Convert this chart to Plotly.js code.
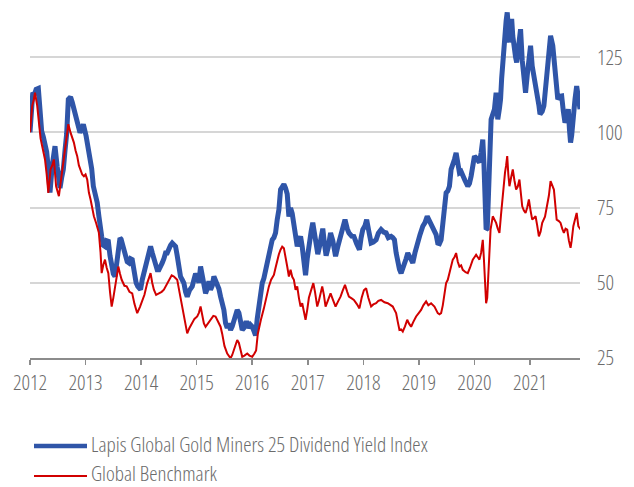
<!DOCTYPE html>
<html>
<head>
<meta charset="utf-8">
<script src="https://cdn.plot.ly/plotly-3.0.1.min.js"></script>
<style>
html,body{margin:0;padding:0;background:#fff;}
#chart{width:634px;height:487px;}
text{font-stretch:75% !important;}
</style>
</head>
<body>
<div id="chart"></div>
<script>
// Years as decimal fractions
const yearTicks = [2012,2013,2014,2015,2016,2017,2018,2019,2020,2021];
const yTicks = [25,50,75,100,125];

const lapisT = [2012.00,2012.02,2012.05,2012.08,2012.11,2012.15,2012.18,2012.21,2012.24,2012.27,2012.30,2012.33,2012.36,2012.40,2012.43,2012.45,2012.49,2012.52,2012.54,2012.57,2012.60,2012.63,2012.66,2012.69,2012.73,2012.76,2012.79,2012.84,2012.87,2012.90,2012.93,2012.96,
2013.01,2013.05,2013.08,2013.11,2013.14,2013.18,2013.21,2013.24,2013.27,2013.29,2013.32,2013.35,2013.38,2013.41,2013.44,2013.47,2013.50,2013.53,2013.56,2013.59,2013.62,2013.64,2013.68,2013.72,2013.75,2013.78,2013.81,2013.84,2013.88,2013.91,2013.94,2013.99,
2014.02,2014.05,2014.08,2014.11,2014.14,2014.17,2014.20,2014.23,2014.26,2014.29,2014.32,2014.35,2014.38,2014.41,2014.44,2014.47,2014.50,2014.53,2014.56,2014.59,2014.62,2014.65,2014.68,2014.71,2014.74,2014.77,2014.80,2014.83,2014.87,2014.92,2014.95,2014.98,
2015.01,2015.04,2015.07,2015.10,2015.13,2015.16,2015.19,2015.22,2015.25,2015.28,2015.31,2015.34,2015.37,2015.40,2015.43,2015.46,2015.49,2015.52,2015.55,2015.58,2015.61,2015.64,2015.67,2015.70,2015.73,2015.76,2015.79,2015.82,2015.85,2015.88,2015.91,2015.94,2015.97,
2016.00,2016.03,2016.06,2016.09,2016.12,2016.15,2016.18,2016.21,2016.24,2016.27,2016.30,2016.33,2016.36,2016.39,2016.42,2016.45,2016.48,2016.51,2016.54,2016.57,2016.60,2016.63,2016.66,2016.69,2016.72,2016.75,2016.78,2016.81,2016.84,2016.87,2016.90,2016.93,2016.96,2016.99,
2017.02,2017.06,2017.09,2017.12,2017.15,2017.18,2017.21,2017.24,2017.27,2017.30,2017.33,2017.37,2017.41,2017.45,2017.50,2017.54,2017.59,2017.63,2017.67,2017.71,2017.74,2017.79,2017.83,2017.88,2017.93,2017.96,2017.99,
2018.03,2018.06,2018.10,2018.14,2018.18,2018.23,2018.27,2018.32,2018.37,2018.41,2018.45,2018.50,2018.53,2018.56,2018.59,2018.62,2018.65,2018.68,2018.71,2018.74,2018.77,2018.80,2018.84,2018.89,2018.93,2018.98,
2019.02,2019.07,2019.11,2019.15,2019.19,2019.22,2019.25,2019.28,2019.31,2019.34,2019.37,2019.40,2019.43,2019.46,2019.49,2019.52,2019.55,2019.58,2019.61,2019.64,2019.67,2019.70,2019.73,2019.76,2019.79,2019.83,2019.88,2019.91,2019.94,2019.97,
2020.00,2020.03,2020.06,2020.09,2020.12,2020.15,2020.17,2020.19,2020.21,2020.23,2020.25,2020.27,2020.30,2020.33,2020.36,2020.39,2020.42,2020.45,2020.47,2020.49,2020.51,2020.53,2020.55,2020.57,2020.59,2020.61,2020.63,2020.65,2020.67,2020.69,2020.71,2020.74,2020.76,2020.79,2020.81,2020.83,2020.86,2020.88,2020.90,2020.92,2020.95,2020.98,
2021.01,2021.04,2021.07,2021.10,2021.13,2021.16,2021.18,2021.22,2021.25,2021.28,2021.31,2021.34,2021.37,2021.41,2021.45,2021.48,2021.50,2021.54,2021.57,2021.60,2021.63,2021.66,2021.69,2021.71,2021.73,2021.75,2021.78,2021.81,2021.84,2021.87,2021.90];

const lapisV = [100,106.6,113.2,112.5,114.3,114.6,107.1,100.4,98.5,96.6,93.5,88,80,89,93,95.4,88.5,83,81.5,85,87.7,94,99.5,111,111.8,110,107.7,104.3,103,99.9,101,102.7,
98.8,95,92.1,88,82.1,79,76.6,72.1,67,65.4,62.5,62.1,64,63.8,59,55.4,53,52.1,57,61,64.9,64.5,61.5,59.9,57,56.6,58,57.7,53,50,48.8,47.7,
51,53.2,56.6,57.5,60,62.1,60,57.7,55,54.3,54.3,56,56.6,58,59.9,59.9,61.5,62.5,63.2,62.7,62.1,59,55.4,52,51,49.9,47,45.4,47.5,48.8,51,53,
52.1,50,55.4,53,49,46.5,48,50.5,47.7,49,52.1,51,49.9,48,45.4,43,41,36.6,35,36.5,34.3,35.5,37.7,40,41,40,37,34.3,35,36.6,36.6,35,36,
35.4,34,32.5,38,43,46,49.9,51.5,54.3,56,58.8,61,64.3,65,66.6,71,74.3,81,82,82.7,81.5,79.5,72,74.9,73,68.8,66.6,62.1,64,65.4,62,57.7,52.5,58,
63.5,67,70,67,63,59.5,62,66,68,63,59,62,66.6,64,58.8,62,65.4,68,71,68,66.6,65.5,65.4,63,61,65,67.7,
69,71,67,63.2,63.5,64.3,66.5,67.7,66.8,66.6,65,65.4,65,64.3,60,56.6,54.5,53.2,54.5,56.6,58,59.9,58,56.6,60,64.3,
66,68.8,70,72.1,70.5,69.9,68.5,67.7,66,63.2,63,64.3,69,73.2,79.9,80.5,82.1,87.7,89,91,93.2,89,86.6,87,85.4,84,82.1,83,85.4,89,
92.1,91.5,91,90,93.2,97.6,90,80,67.7,68,78,94.3,104.3,106,107.7,113.2,104.3,108,111,118,124.3,128,133.2,137,139.9,134,129.9,133,137.7,132,127.7,125,123.2,128,131,134.3,124,119.9,116,113.2,119,124.3,
128.8,122,118.8,116,114.3,109,106,107,108.8,115,121,126,132.1,128.8,119.9,113,111,112,112.1,107,103.2,105,107.7,101,96.6,99,106.6,111,115.4,112.1,107.7];

const benchT = [2012.00,2012.02,2012.04,2012.07,2012.09,2012.13,2012.16,2012.19,2012.22,2012.27,2012.30,2012.33,2012.37,2012.40,2012.43,2012.47,2012.52,2012.55,2012.58,2012.61,2012.64,2012.69,2012.73,2012.79,2012.82,2012.85,2012.88,2012.91,2012.94,2012.97,
2013.00,2013.03,2013.06,2013.09,2013.12,2013.15,2013.19,2013.22,2013.24,2013.27,2013.29,2013.32,2013.35,2013.38,2013.41,2013.44,2013.47,2013.50,2013.53,2013.56,2013.59,2013.62,2013.65,2013.70,2013.74,2013.79,2013.84,2013.88,2013.93,2013.98,
2014.02,2014.06,2014.11,2014.14,2014.17,2014.20,2014.23,2014.27,2014.32,2014.37,2014.41,2014.45,2014.50,2014.55,2014.59,2014.65,2014.69,2014.74,2014.78,2014.83,2014.87,2014.92,2014.96,
2015.01,2015.04,2015.07,2015.10,2015.13,2015.16,2015.20,2015.25,2015.30,2015.34,2015.38,2015.43,2015.46,2015.50,2015.55,2015.58,2015.61,2015.64,2015.67,2015.70,2015.73,2015.76,2015.79,2015.82,2015.86,2015.91,2015.95,
2016.00,2016.04,2016.07,2016.10,2016.13,2016.16,2016.21,2016.25,2016.30,2016.34,2016.39,2016.42,2016.45,2016.48,2016.51,2016.54,2016.57,2016.60,2016.63,2016.66,2016.69,2016.72,2016.75,2016.78,2016.81,2016.84,2016.87,2016.90,2016.93,2016.96,2016.99,
2017.02,2017.06,2017.10,2017.13,2017.17,2017.20,2017.23,2017.26,2017.29,2017.32,2017.36,2017.41,2017.45,2017.50,2017.55,2017.59,2017.63,2017.67,2017.71,2017.74,2017.79,2017.83,2017.88,2017.93,2017.97,
2018.01,2018.05,2018.09,2018.14,2018.18,2018.23,2018.27,2018.32,2018.38,2018.44,2018.49,2018.53,2018.56,2018.59,2018.62,2018.65,2018.68,2018.71,2018.75,2018.79,2018.82,2018.86,2018.90,2018.95,
2019.00,2019.04,2019.08,2019.13,2019.17,2019.22,2019.28,2019.31,2019.34,2019.37,2019.40,2019.43,2019.45,2019.49,2019.52,2019.55,2019.58,2019.61,2019.64,2019.67,2019.70,2019.73,2019.76,2019.79,2019.84,2019.88,2019.92,2019.97,
2020.00,2020.03,2020.06,2020.09,2020.12,2020.15,2020.17,2020.19,2020.21,2020.23,2020.25,2020.27,2020.29,2020.33,2020.36,2020.39,2020.42,2020.45,2020.48,2020.51,2020.53,2020.55,2020.57,2020.59,2020.61,2020.63,2020.66,2020.69,2020.72,2020.75,2020.78,2020.81,2020.84,2020.86,2020.89,2020.92,2020.95,2020.98,
2021.01,2021.04,2021.07,2021.10,2021.13,2021.16,2021.19,2021.22,2021.27,2021.31,2021.34,2021.37,2021.40,2021.43,2021.46,2021.48,2021.52,2021.55,2021.58,2021.61,2021.64,2021.67,2021.70,2021.73,2021.75,2021.78,2021.81,2021.84,2021.87,2021.91];

const benchV = [100,105.4,108.8,111,113.2,108.8,102.1,98,95.4,91,86,79.9,87.7,89,91,82.1,78.8,83,88.8,92,96.6,102.7,99.9,96.6,94,92.1,89,87.7,86,85.4,
86,84.3,80,77.7,75,72.1,69.9,68,66.6,60,53.2,56,57.7,55,53.2,47,42.1,45,48.8,52,55.4,53,51,49,48.8,47,46.5,43,39.9,42,
44.3,46,49.9,51.5,53.2,50,47.7,46,46.5,47,47.7,49,51,52.5,52.1,51,47,42.1,37,33.2,35,36.6,38,
38.8,40,42.1,39,36.5,35.4,36.5,37.7,39,38.8,37.5,35.4,33,29,26.5,25.5,24.9,26,27.7,29.5,31,30,27.5,25.4,25.8,26.5,25.8,
25.4,26.5,27.5,33,36,38,41.5,45,48.8,51,52.6,55,57.7,59.5,61,62,61.5,58.8,55.4,52.1,54.3,52,51,47.7,48.8,45,42.1,43.2,39.9,37.7,41,
45,47.5,49.9,47,42.1,44,46.5,48.8,46,42.1,44,46.5,44.5,42.1,44,45.4,47.5,49.3,47,45.4,44.8,44.3,43,41.5,45,
47.5,48.2,45,42.1,42.8,43.2,44,44.3,43.5,43.2,42.5,42.1,41,39.9,37,34.3,34.5,33.8,35.5,37.7,36.5,35.4,37,38.8,
40,41,42.5,43.8,42.5,43.2,42.1,41,39.9,39.5,39.9,42.5,45.4,49.9,51,53.2,55.5,57.7,58.5,59.9,57,55.4,55.8,54.3,53.5,53.2,55,57.7,
58.5,59.3,58.5,57.7,60,64.3,58,50,43.2,45,53,62,67.7,72.1,71,69.9,68,66.6,73,79.9,83,86.6,89,92.1,86,82.1,85,87.7,84,81,82,84.3,79,75.4,74,73.2,75,77.7,
74,71,71.5,72.1,69,65.4,67,69.9,72,75.4,79,83.8,82.5,81,75,71,70.5,69.9,68,66.6,68,67.7,64,61.6,64,68.8,71,73.2,68.8,67.7];

const seriesNames = ['Lapis Global Gold Miners 25 Dividend Yield Index', 'Global Benchmark'];
const seriesColors = ['#2F55A8', '#D10000'];
const seriesWidths = [5, 2];

const FONT = '"Open Sans", "DejaVu Sans Condensed", sans-serif';
const TXT = '#6b6b6b';
const FS = 21;

const traces = [
  {x: lapisT, y: lapisV, name: seriesNames[0], type: 'scatter', mode: 'lines',
   line: {color: seriesColors[0], width: seriesWidths[0]}},
  {x: benchT, y: benchV, name: seriesNames[1], type: 'scatter', mode: 'lines',
   line: {color: seriesColors[1], width: seriesWidths[1]}}
];

// plot area in pixels: x 30..580, y 6..358
const PX = p => (p - 30) / 550;
const PY = q => (358 - q) / 352;
const lineRows = [446, 476];
const textRows = [444, 472.5];

const shapes = seriesNames.map((n, i) => ({
  type: 'line', xref: 'paper', yref: 'paper',
  x0: PX(34), x1: PX(87), y0: PY(lineRows[i]), y1: PY(lineRows[i]),
  line: {color: seriesColors[i], width: i === 0 ? 4.5 : 2}
}));
const annotations = seriesNames.map((n, i) => ({
  text: n, xref: 'paper', yref: 'paper', x: PX(90), y: PY(textRows[i]),
  xanchor: 'left', yanchor: 'middle', showarrow: false, borderpad: 0,
  font: {family: FONT, size: FS, color: TXT, weight: 300}
}));

const layout = {
  width: 634, height: 487,
  margin: {l: 30, r: 54, t: 6, b: 129},
  paper_bgcolor: '#fff', plot_bgcolor: '#fff',
  font: {family: FONT, color: TXT, size: FS, weight: 300},
  showlegend: false,
  shapes: shapes,
  annotations: annotations,
  xaxis: {range: [2012, 2021.9], tickvals: yearTicks, ticktext: yearTicks.map(String),
          ticks: 'outside', ticklen: 5, tickwidth: 1.5, tickcolor: '#8c8c8c',
          showline: true, linecolor: '#8c8c8c', linewidth: 2,
          showgrid: false, zeroline: false, ticklabelstandoff: 0,
          tickfont: {family: FONT, size: FS, color: TXT, weight: 300}},
  yaxis: {side: 'right', range: [25, 142], tickvals: yTicks, ticktext: yTicks.map(String),
          ticks: '', showline: false, zeroline: false,
          showgrid: true, gridcolor: '#d6d6d6', gridwidth: 2,
          ticklabelstandoff: 16,
          tickfont: {family: FONT, size: FS, color: TXT, weight: 300}}
};

Plotly.newPlot('chart', traces, layout, {staticPlot: true, displayModeBar: false});
</script>
</body>
</html>
